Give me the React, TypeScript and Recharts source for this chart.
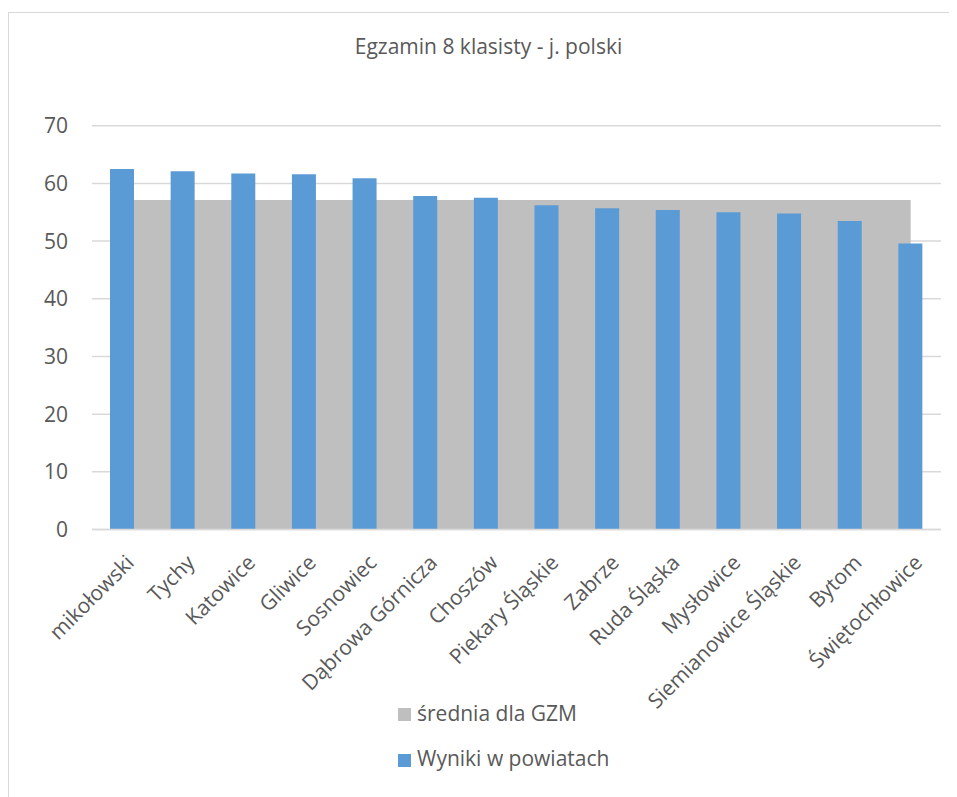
import React from 'react';
import { ComposedChart, Bar, Area, XAxis, YAxis, CartesianGrid, Legend } from 'recharts';

const categories = ['mikołowski', 'Tychy', 'Katowice', 'Gliwice', 'Sosnowiec', 'Dąbrowa Górnicza', 'Choszów', 'Piekary Śląskie', 'Zabrze', 'Ruda Śląska', 'Mysłowice', 'Siemianowice Śląskie', 'Bytom', 'Świętochłowice'];
const districtResults = [62.5, 62.1, 61.7, 61.6, 60.9, 57.8, 57.5, 56.2, 55.7, 55.4, 55.0, 54.8, 53.5, 49.6];
const gzmAverage = [57.1, 57.1, 57.1, 57.1, 57.1, 57.1, 57.1, 57.1, 57.1, 57.1, 57.1, 57.1, 57.1, 57.1];
const yTicks = [0, 10, 20, 30, 40, 50, 60, 70];
const seriesNames = { avg: 'średnia dla GZM', res: 'Wyniki w powiatach' };
const chartTitle = 'Egzamin 8 klasisty - j. polski';

const data = categories.map((name, i) => ({ name, avg: gzmAverage[i], res: districtResults[i] }));

const FONT = '"Open Sans", sans-serif';
const TEXT = '#595959';
const COLORS: Record<string, string> = { avg: '#bfbfbf', res: '#5b9bd5' };

const XTick = (props: any) => {
  const { x, y, payload } = props;
  return (
    <g transform={`translate(${x + 13},${y + 34.5})`}>
      <text transform="rotate(-45)" textAnchor="end" x={0} y={0} fill={TEXT} fontSize={21} fontFamily={FONT}>
        {payload.value}
      </text>
    </g>
  );
};

const LegendContent = () => {
  const order = ['avg', 'res'];
  return (
    <div style={{ position: 'relative', width: 948, height: 90 }}>
      {order.map((k, i) => (
        <React.Fragment key={k}>
          <div style={{ position: 'absolute', left: 389, top: 5 + i * 46, width: 13, height: 13, background: COLORS[k] }} />
          <div style={{ position: 'absolute', left: 408, top: 0.4 + i * 45, fontFamily: FONT, fontSize: 21, lineHeight: '21px', color: TEXT, whiteSpace: 'nowrap' }}>
            {(seriesNames as any)[k]}
          </div>
        </React.Fragment>
      ))}
    </div>
  );
};

export default function App() {
  return (
    <div style={{ marginTop: 4, borderLeft: '1px solid #d9d9d9', borderTop: '1px solid #d9d9d9', width: 948, height: 784 }}>
      <div style={{ position: 'relative', width: 948, height: 784 }}>
        <div style={{ position: 'absolute', left: 0, top: 23.3, width: 959, textAlign: 'center', fontFamily: FONT, fontSize: 21, lineHeight: '21px', color: TEXT }}>
          {chartTitle}
        </div>
        <ComposedChart width={948} height={784} data={data} margin={{ top: 112.7, right: 16, bottom: 67.5, left: 0 }}>
          <CartesianGrid vertical={false} stroke="#d9d9d9" strokeWidth={1.5} />
          <XAxis dataKey="name" interval={0} height={200} tickSize={0} tickMargin={0} tick={<XTick />} axisLine={{ stroke: '#d9d9d9', strokeWidth: 1.5 }} tickLine={false} />
          <YAxis domain={[0, 70]} ticks={yTicks} width={83} tickMargin={18} axisLine={false} tickLine={false} tick={{ fill: TEXT, fontSize: 21, fontFamily: FONT }} />
          <Area dataKey="avg" name={seriesNames.avg} type="linear" fill={COLORS.avg} fillOpacity={1} stroke="none" isAnimationActive={false} />
          <Bar dataKey="res" name={seriesNames.res} fill={COLORS.res} barSize={24} isAnimationActive={false} />
          <Legend layout="vertical" align="center" verticalAlign="middle" content={<LegendContent />} wrapperStyle={{ top: 690, left: 0, width: 948, height: 90 }} />
        </ComposedChart>
      </div>
    </div>
  );
}
